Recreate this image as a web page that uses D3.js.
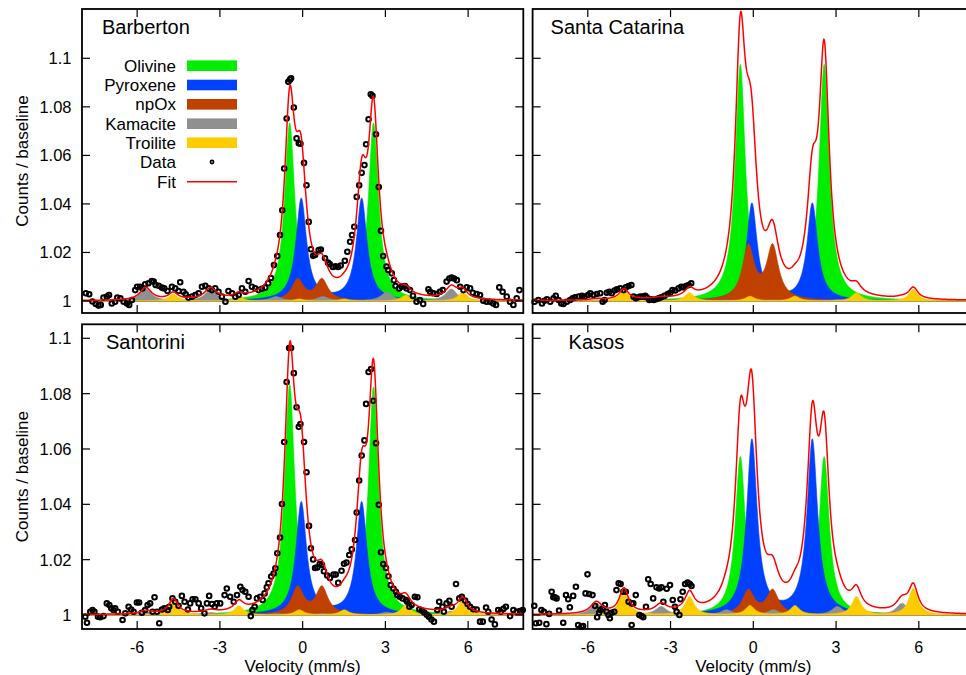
<!DOCTYPE html>
<html><head><meta charset="utf-8">
<script src="https://cdn.jsdelivr.net/npm/d3@7"></script>
<style>body{margin:0;background:#fff} text{font-family:"Liberation Sans",Arial,Helvetica,sans-serif;fill:#000}</style>
</head><body><svg id="c" width="966" height="675"></svg>
<script>
// ---------------- DATA ----------------
const panelNames = ["Barberton","Santa Catarina","Santorini","Kasos"];
const componentNames = ["Olivine","Pyroxene","npOx","Kamacite","Troilite"];
const xTicks = [-6,-3,0,3,6];
const xTickLabels = ["-6","-3","0","3","6"];
const yTicks = [1,1.02,1.04,1.06,1.08,1.1];
const yTickLabels = ["1","1.02","1.04","1.06","1.08","1.1"];
const xLabel = "Velocity (mm/s)";
const yLabel = "Counts / baseline";

// Fitted line positions (mm/s) for each component
const olivinePos  = [-0.47, 2.57];
const pyroxenePos = [-0.05, 2.14];
const npOxPos     = [-0.18, 0.70];
const kamacitePos = [-5.69, -3.34, -0.97, 0.73, 3.05, 5.39];
const troilitePos = [-4.69, -2.31, -0.12, 1.51, 3.74, 5.80];
// half widths at half maximum (mm/s) per component
const halfWidths = [0.22, 0.23, 0.26, 0.25, 0.20];
// line depths above baseline, per panel (Barberton, Santa Catarina, Santorini, Kasos)
const olivineDepth  = [[0.073,0.073],[0.097,0.097],[0.083,0.082],[0.057,0.057]];
const pyroxeneDepth = [[0.042,0.042],[0.040,0.040],[0.0406,0.0406],[0.063,0.063]];
const npOxDepth     = [[0.0087,0.0087],[0.0219,0.0219],[0.0098,0.0098],[0.0087,0.0087]];
const kamaciteDepth = [[0.0052,0.0045,0.0017,0.0017,0.0036,0.0049],
                       [0.0005,0.0005,0.0004,0.0004,0.0005,0.0005],
                       [0.0012,0.0009,0.0005,0.0005,0.0010,0.0014],
                       [0.0042,0.0030,0.0018,0.0018,0.0030,0.0042]];
const troiliteDepth = [[0.0028,0.0015,0.0008,0.0008,0.0023,0.0036],
                       [0.0045,0.0033,0.0019,0.0019,0.0033,0.0047],
                       [0.0054,0.0033,0.0018,0.0018,0.0036,0.0054],
                       [0.0090,0.0066,0.0033,0.0033,0.0066,0.0096]];

// Measured points [velocity, counts/baseline]
const barbertonData = [[-7.86,1.0032],[-7.74,1.0028],[-7.62,0.9998],[-7.50,0.9988],[-7.40,0.9981],[-7.32,0.9984],[-7.22,1.0014],[-7.10,1.0018],[-7.02,1.0025],[-6.92,0.9990],[-6.80,0.9997],[-6.72,1.0014],[-6.61,1.0011],[-6.49,0.9997],[-6.37,0.9990],[-6.29,0.9984],[-6.19,1.0004],[-6.07,1.0045],[-6.00,1.0059],[-5.89,1.0059],[-5.81,1.0052],[-5.71,1.0069],[-5.59,1.0073],[-5.47,1.0082],[-5.40,1.0080],[-5.33,1.0066],[-5.22,1.0063],[-5.10,1.0055],[-5.02,1.0052],[-4.90,1.0041],[-4.74,1.0059],[-4.62,1.0052],[-4.50,1.0041],[-4.44,1.0077],[-4.32,1.0038],[-4.24,1.0028],[-4.14,1.0014],[-4.01,1.0018],[-3.89,1.0025],[-3.77,1.0032],[-3.65,1.0059],[-3.53,1.0063],[-3.41,1.0052],[-3.29,1.0045],[-3.17,1.0052],[-3.05,1.0038],[-2.93,1.0018],[-2.80,0.9997],[-2.69,1.0041],[-2.56,1.0032],[-2.44,1.0018],[-2.32,1.0025],[-2.20,1.0052],[-2.08,1.0038],[-1.96,1.0082],[-1.84,1.0059],[-1.72,1.0052],[-1.60,1.0045],[-1.48,1.0050],[-1.36,1.0055],[-1.25,1.0073],[-1.15,1.0095],[-1.04,1.0148],[-0.92,1.0185],[-0.82,1.0272],[-0.74,1.0374],[-0.67,1.0546],[-0.58,1.0752],[-0.52,1.0903],[-0.46,1.0912],[-0.42,1.0918],[-0.32,1.0797],[-0.22,1.0670],[-0.14,1.0650],[-0.08,1.0648],[0.05,1.0569],[0.14,1.0477],[0.22,1.0326],[0.30,1.0213],[0.38,1.0186],[0.45,1.0190],[0.58,1.0210],[0.66,1.0212],[0.81,1.0176],[0.92,1.0158],[0.98,1.0152],[1.10,1.0140],[1.19,1.0143],[1.29,1.0140],[1.38,1.0146],[1.53,1.0166],[1.62,1.0203],[1.72,1.0244],[1.79,1.0272],[1.87,1.0306],[1.96,1.0429],[2.05,1.0477],[2.14,1.0528],[2.24,1.0560],[2.30,1.0646],[2.39,1.0749],[2.47,1.0852],[2.53,1.0845],[2.66,1.0687],[2.76,1.0470],[2.84,1.0289],[2.92,1.0185],[3.04,1.0142],[3.10,1.0128],[3.23,1.0114],[3.31,1.0086],[3.37,1.0062],[3.50,1.0052],[3.59,1.0059],[3.71,1.0062],[3.77,1.0052],[3.89,1.0045],[4.00,1.0021],[4.13,0.9997],[4.25,1.0004],[4.37,0.9988],[4.56,1.0048],[4.62,1.0038],[4.74,1.0032],[4.86,1.0029],[4.98,1.0038],[5.08,1.0045],[5.22,1.0080],[5.32,1.0093],[5.40,1.0097],[5.49,1.0093],[5.59,1.0086],[5.71,1.0059],[5.83,1.0045],[5.95,1.0056],[6.07,1.0052],[6.17,1.0034],[6.31,1.0029],[6.43,1.0025],[6.55,1.0001],[6.67,0.9997],[6.79,0.9997],[6.91,0.9990],[7.01,0.9984],[7.13,1.0056],[7.25,1.0038],[7.40,1.0018],[7.52,0.9997],[7.64,0.9984],[7.76,1.0011],[7.86,1.0045]];

const santaCatarinaData = [[-7.93,0.9997],[-7.79,1.0004],[-7.66,0.9990],[-7.57,1.0001],[-7.48,1.0007],[-7.36,0.9997],[-7.24,1.0011],[-7.16,1.0021],[-7.06,1.0004],[-6.96,0.9990],[-6.88,0.9988],[-6.76,0.9997],[-6.64,1.0004],[-6.55,1.0011],[-6.46,1.0015],[-6.33,1.0018],[-6.21,1.0021],[-6.12,1.0018],[-5.99,1.0025],[-5.91,1.0032],[-5.79,1.0025],[-5.67,1.0029],[-5.55,1.0032],[-5.46,0.9997],[-5.39,1.0004],[-5.31,1.0034],[-5.22,1.0038],[-5.13,1.0032],[-5.03,1.0043],[-4.94,1.0048],[-4.82,1.0052],[-4.70,1.0045],[-4.62,1.0056],[-4.52,1.0062],[-4.42,1.0066],[-4.34,1.0018],[-4.26,1.0011],[-4.18,1.0015],[-4.10,1.0018],[-4.01,1.0018],[-3.92,1.0021],[-3.86,1.0015],[-3.77,1.0004],[-3.70,1.0007],[-3.61,1.0004],[-3.53,1.0007],[-3.43,1.0011],[-3.34,1.0015],[-3.22,1.0021],[-3.10,1.0029],[-3.01,1.0034],[-2.93,1.0045],[-2.83,1.0043],[-2.71,1.0052],[-2.61,1.0059],[-2.53,1.0056],[-2.44,1.0062],[-2.34,1.0066],[-2.25,1.0073]];

const santoriniData = [[-7.88,0.9994],[-7.82,0.9972],[-7.70,1.0012],[-7.62,1.0018],[-7.55,1.0012],[-7.42,0.9994],[-7.34,0.9992],[-7.22,0.9996],[-7.10,1.0042],[-7.01,1.0036],[-6.94,1.0024],[-6.86,1.0018],[-6.80,1.0024],[-6.70,1.0012],[-6.53,0.9982],[-6.43,1.0006],[-6.31,1.0030],[-6.22,1.0020],[-6.13,1.0012],[-6.01,1.0045],[-5.93,1.0045],[-5.83,1.0008],[-5.71,1.0018],[-5.62,1.0036],[-5.53,1.0042],[-5.44,1.0012],[-5.37,1.0064],[-5.28,1.0012],[-5.20,0.9970],[-5.10,1.0020],[-5.01,1.0024],[-4.89,1.0018],[-4.84,1.0030],[-4.72,1.0060],[-4.62,1.0048],[-4.50,1.0033],[-4.38,1.0069],[-4.28,1.0048],[-4.16,1.0020],[-4.08,1.0042],[-3.99,1.0057],[-3.89,1.0057],[-3.77,1.0042],[-3.68,1.0024],[-3.56,1.0006],[-3.47,1.0042],[-3.39,1.0069],[-3.29,1.0040],[-3.19,1.0030],[-3.11,1.0042],[-2.99,1.0042],[-2.83,1.0072],[-2.75,1.0096],[-2.63,1.0066],[-2.50,1.0048],[-2.38,1.0072],[-2.26,1.0102],[-2.18,1.0090],[-2.08,1.0084],[-1.96,1.0066],[-1.88,0.9996],[-1.82,1.0018],[-1.74,1.0030],[-1.66,1.0060],[-1.54,1.0066],[-1.45,1.0054],[-1.38,1.0078],[-1.30,1.0100],[-1.24,1.0115],[-1.14,1.0139],[-1.05,1.0150],[-0.99,1.0169],[-0.92,1.0223],[-0.82,1.0280],[-0.75,1.0401],[-0.67,1.0625],[-0.58,1.0842],[-0.49,1.0965],[-0.42,1.0965],[-0.32,1.0874],[-0.22,1.0751],[-0.14,1.0680],[-0.08,1.0690],[0.05,1.0625],[0.14,1.0516],[0.23,1.0322],[0.30,1.0241],[0.38,1.0201],[0.45,1.0170],[0.53,1.0172],[0.62,1.0184],[0.70,1.0181],[0.77,1.0158],[0.89,1.0143],[0.99,1.0134],[1.12,1.0146],[1.20,1.0146],[1.29,1.0116],[1.41,1.0160],[1.50,1.0185],[1.59,1.0190],[1.69,1.0217],[1.78,1.0237],[1.90,1.0271],[1.96,1.0370],[2.05,1.0486],[2.14,1.0576],[2.24,1.0631],[2.30,1.0763],[2.39,1.0878],[2.48,1.0889],[2.56,1.0774],[2.66,1.0621],[2.76,1.0398],[2.84,1.0227],[2.92,1.0184],[3.02,1.0170],[3.11,1.0140],[3.19,1.0108],[3.29,1.0096],[3.38,1.0084],[3.43,1.0072],[3.52,1.0066],[3.62,1.0060],[3.75,1.0054],[3.79,1.0048],[3.87,1.0030],[3.95,1.0036],[4.07,1.0066],[4.16,1.0064],[4.23,1.0021],[4.32,1.0016],[4.41,1.0009],[4.50,1.0001],[4.58,0.9994],[4.67,0.9984],[4.76,0.9976],[4.88,1.0018],[4.95,1.0048],[5.07,1.0030],[5.12,1.0012],[5.22,1.0042],[5.32,1.0051],[5.40,1.0030],[5.56,1.0112],[5.68,1.0060],[5.77,1.0066],[5.89,1.0052],[5.98,1.0040],[6.07,1.0030],[6.19,1.0021],[6.31,1.0020],[6.43,0.9976],[6.53,0.9976],[6.65,1.0027],[6.73,1.0012],[6.85,0.9984],[6.97,0.9966],[7.09,1.0018],[7.18,1.0012],[7.28,1.0022],[7.37,1.0030],[7.52,0.9996],[7.64,1.0018],[7.76,1.0012],[7.88,1.0014],[7.98,1.0018]];

const kasosData = [[-7.94,1.0033],[-7.88,0.9970],[-7.76,0.9972],[-7.68,1.0018],[-7.59,1.0012],[-7.50,0.9967],[-7.40,1.0004],[-7.31,1.0084],[-7.25,1.0064],[-7.19,1.0064],[-7.13,1.0060],[-7.04,1.0016],[-6.89,0.9972],[-6.79,1.0072],[-6.71,1.0057],[-6.65,1.0028],[-6.53,1.0069],[-6.43,1.0102],[-6.35,0.9964],[-6.23,0.9958],[-6.17,0.9960],[-6.08,1.0078],[-6.01,1.0147],[-5.95,1.0076],[-5.83,1.0072],[-5.74,1.0033],[-5.66,0.9992],[-5.59,1.0008],[-5.54,1.0018],[-5.46,1.0024],[-5.38,1.0036],[-5.32,1.0012],[-5.25,1.0000],[-5.20,0.9988],[-5.14,1.0008],[-5.04,1.0012],[-4.96,1.0090],[-4.88,1.0115],[-4.81,1.0112],[-4.71,1.0084],[-4.62,1.0084],[-4.52,1.0048],[-4.41,1.0042],[-4.41,0.9964],[-4.35,1.0042],[-4.26,1.0072],[-4.13,1.0000],[-4.05,0.9996],[-3.99,0.9992],[-3.89,1.0030],[-3.81,1.0129],[-3.72,1.0112],[-3.63,1.0060],[-3.51,1.0100],[-3.41,1.0096],[-3.33,1.0100],[-3.26,1.0048],[-3.14,1.0095],[-3.02,1.0108],[-2.92,1.0054],[-2.84,1.0030],[-2.78,1.0012],[-2.68,1.0000],[-2.64,1.0057],[-2.56,1.0084],[-2.47,1.0112],[-2.38,1.0117],[-2.30,1.0112],[-2.24,1.0105]];

const panelData = [barbertonData, santaCatarinaData, santoriniData, kasosData];

// ---------------- STYLE ----------------
const compColors = ["#00ee00","#0040ff","#c04000","#909090","#ffcc00"];
const fitColor = "#ff0000";
const positions = [olivinePos, pyroxenePos, npOxPos, kamacitePos, troilitePos];
const depths = [olivineDepth, pyroxeneDepth, npOxDepth, kamaciteDepth, troiliteDepth];

const svg = d3.select("#c");
svg.append("rect").attr("width",966).attr("height",675).attr("fill","#fff");

const xRanges = [[82, 523.3],[532.6, 974]];
const yRanges = [[301, 58.3],[615, 338.3]];
const boxY = [[9, 313],[324.3, 629]];

function component(p, c) {
  const pos = positions[c], dep = depths[c][p], w = halfWidths[c];
  return v => d3.sum(pos, (x0, i) => dep[i] / (1 + ((v - x0) / w) ** 2));
}

const grid = d3.range(-8, 8.0001, 0.01);
const tickLen = 8;

panelNames.forEach((name, p) => {
  const col = p % 2, row = Math.floor(p / 2);
  const x = d3.scaleLinear().domain([-8, 8]).range(xRanges[col]);
  const y = d3.scaleLinear().domain([1, 1.1]).range(yRanges[row]);
  const [bx0, bx1] = xRanges[col];
  const [by0, by1] = boxY[row];
  const g = svg.append("g");

  const comps = componentNames.map((_, c) => component(p, c));
  comps.forEach((f, c) => {
    const area = d3.area().x(v => x(v)).y0(y(1)).y1(v => y(1 + f(v)));
    g.append("path").attr("d", area(grid)).attr("fill", compColors[c])
      .attr("stroke", compColors[c]).attr("stroke-width", 0.6);
  });

  // data points
  g.selectAll("circle.d").data(panelData[p]).enter().append("circle")
    .attr("cx", d => x(d[0])).attr("cy", d => y(d[1])).attr("r", 2.3)
    .attr("fill", "none").attr("stroke", "#000").attr("stroke-width", 2);

  // fit
  const fitLine = d3.line().x(v => x(v)).y(v => y(1 + d3.sum(comps, f => f(v))));
  g.append("path").attr("d", fitLine(grid)).attr("fill", "none")
    .attr("stroke", fitColor).attr("stroke-width", 1.5);

  // border
  g.append("rect").attr("x", bx0).attr("y", by0).attr("width", bx1 - bx0).attr("height", by1 - by0)
    .attr("fill", "none").attr("stroke", "#000").attr("stroke-width", 1.8);

  // x ticks (top & bottom)
  xTicks.forEach(t => {
    g.append("line").attr("x1", x(t)).attr("x2", x(t)).attr("y1", by1).attr("y2", by1 - tickLen).attr("stroke", "#000").attr("stroke-width", 1.2);
    g.append("line").attr("x1", x(t)).attr("x2", x(t)).attr("y1", by0).attr("y2", by0 + tickLen).attr("stroke", "#000").attr("stroke-width", 1.2);
  });
  // y ticks (left & right)
  yTicks.forEach(t => {
    g.append("line").attr("x1", bx0).attr("x2", bx0 + tickLen).attr("y1", y(t)).attr("y2", y(t)).attr("stroke", "#000").attr("stroke-width", 1.2);
    g.append("line").attr("x1", bx1).attr("x2", bx1 - tickLen).attr("y1", y(t)).attr("y2", y(t)).attr("stroke", "#000").attr("stroke-width", 1.2);
  });

  if (col === 0) {
    yTicks.forEach((t, i) => {
      g.append("text").attr("x", 71.5).attr("y", y(t) + 6).attr("text-anchor", "end")
        .attr("font-size", 16.5).text(yTickLabels[i]);
    });
    g.append("text").attr("transform", `translate(27.5,${(by0 + by1) / 2}) rotate(-90)`)
      .attr("text-anchor", "middle").attr("font-size", 17).text(yLabel);
  }
  if (row === 1) {
    xTicks.forEach((t, i) => {
      g.append("text").attr("x", x(t)).attr("y", 652.5).attr("text-anchor", "middle")
        .attr("font-size", 16).text(xTickLabels[i]);
    });
    g.append("text").attr("x", x(0)).attr("y", 672).attr("text-anchor", "middle")
      .attr("font-size", 17).text(xLabel);
  }

  // panel title
  g.append("text").attr("x", bx0 + (col === 0 ? 20 : 18) + (row === 1 && col === 0 ? 4 : 0) + (row === 1 && col === 1 ? 18 : 0))
    .attr("y", row === 0 ? 33.5 : 349).attr("font-size", 20).text(name);

  // legend (Barberton only)
  if (p === 0) {
    const ly = [65.7, 85, 104.3, 123.7, 142.7, 162, 181.7];
    const labels = componentNames.concat(["Data", "Fit"]);
    labels.forEach((lab, i) => {
      g.append("text").attr("x", 176).attr("y", ly[i] + 6).attr("text-anchor", "end")
        .attr("font-size", 17).text(lab);
      if (i < 5) {
        g.append("rect").attr("x", 187).attr("y", ly[i] - 5.3).attr("width", 50).attr("height", 10.6)
          .attr("fill", compColors[i]);
      } else if (i === 5) {
        g.append("circle").attr("cx", 212).attr("cy", ly[i]).attr("r", 1.6)
          .attr("fill", "none").attr("stroke", "#000").attr("stroke-width", 1.6);
      } else {
        g.append("line").attr("x1", 187).attr("x2", 237).attr("y1", ly[i]).attr("y2", ly[i])
          .attr("stroke", fitColor).attr("stroke-width", 1.5);
      }
    });
  }
});
</script></body></html>
